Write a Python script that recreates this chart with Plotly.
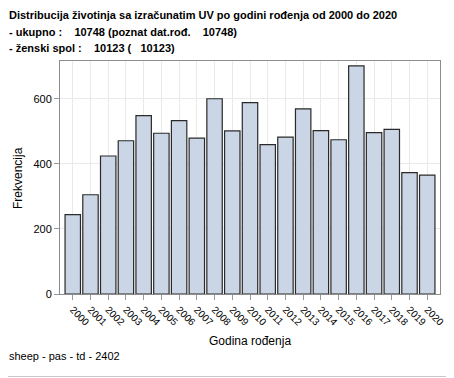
import plotly.graph_objects as go

years = [str(y) for y in range(2000, 2021)]
counts = [244, 305, 424, 471, 548, 494, 533, 479, 600, 501, 588, 459, 482, 569, 502, 474, 701, 496, 506, 373, 365]
y_ticks = [0, 200, 400, 600]
title_lines = [
    "Distribucija životinja sa izračunatim UV po godini rođenja od 2000 do 2020",
    "- ukupno :    10748 (poznat dat.rođ.    10748)",
    "- ženski spol :    10123 (   10123)",
]
footnote = "sheep - pas - td - 2402"
x_title = "Godina rođenja"
y_title = "Frekvencija"

# page body has an 8px margin, so figure coordinates = reference pixels - 8
OFF = 8
W, H = 438, 370
L, R, T, B = 52, 6, 53, 84
PW, PH = W - L - R, H - T - B

def px(x):
    return (x - OFF - L) / PW

def py(y):
    return 1 - (y - OFF - T) / PH

font = "Liberation Sans, Arial, sans-serif"

fig = go.Figure()
fig.add_trace(go.Bar(
    x=years, y=counts,
    marker=dict(color="#CAD5E5", line=dict(color="#2a2a2a", width=1.2)),
    width=0.87,
))

fig.update_layout(
    width=W, height=H,
    margin=dict(l=L, r=R, t=T, b=B, autoexpand=False),
    paper_bgcolor="white", plot_bgcolor="white",
    showlegend=False,
    font=dict(family=font, size=11, color="#000"),
)
fig.update_xaxes(
    type="category",
    range=[-0.72, 20.72],
    tickangle=45,
    automargin=False,
    showgrid=True, gridcolor="#E9E9E9", gridwidth=1,
    ticks="outside", ticklen=5, tickcolor="#999",
    showline=True, linecolor="#8C8C8C", linewidth=1, mirror=True,
    tickfont=dict(size=10, family=font, color="#000"),
)
fig.update_yaxes(
    range=[0, 716],
    tickvals=y_ticks,
    automargin=False,
    showgrid=True, gridcolor="#E9E9E9", gridwidth=1,
    zeroline=False,
    ticks="outside", ticklen=5, tickcolor="#999",
    showline=True, linecolor="#8C8C8C", linewidth=1, mirror=True,
    tickfont=dict(size=11, family=font, color="#000"),
)

for t, yy in zip(title_lines, [15, 32, 48]):
    fig.add_annotation(text="<b>" + t + "</b>", xref="paper", yref="paper",
                       x=px(7), y=py(yy), xanchor="left", yanchor="middle",
                       showarrow=False, font=dict(size=11, family=font, color="#000"))
fig.add_annotation(text=footnote, xref="paper", yref="paper",
                   x=px(7), y=py(356), xanchor="left", yanchor="middle",
                   showarrow=False, font=dict(size=11, family=font, color="#000"))
fig.add_annotation(text=x_title, xref="paper", yref="paper",
                   x=px(250), y=py(341), xanchor="center", yanchor="middle",
                   showarrow=False, font=dict(size=12, family=font, color="#000"))
fig.add_annotation(text=y_title, xref="paper", yref="paper",
                   x=px(18), y=py(178), xanchor="center", yanchor="middle", textangle=-90,
                   showarrow=False, font=dict(size=12, family=font, color="#000"))

fig.add_shape(type="line", xref="paper", yref="paper",
              x0=px(0), x1=px(454), y0=py(376.5), y1=py(376.5),
              line=dict(color="#C8C8C8", width=1))

fig.write_html("out.html")
